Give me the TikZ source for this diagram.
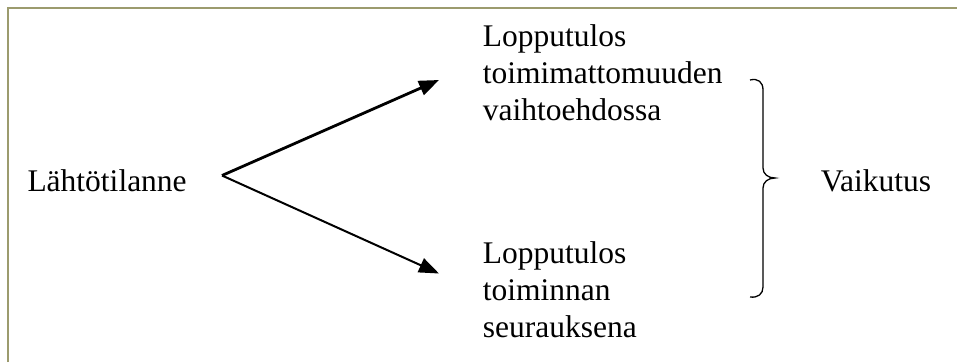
\documentclass[tikz,border=0pt]{standalone}
\usepackage{fontspec}
\setmainfont{Liberation Serif}
\usetikzlibrary{arrows.meta}
\definecolor{frameol}{RGB}{156,155,110}
\begin{document}
\begin{tikzpicture}[x=1pt,y=-1pt,
  lbl/.style={inner sep=0pt, font=\fontsize{31.5pt}{36.8pt}\selectfont, align=left},
  arr/.style={-{Triangle[length=20pt,width=15pt]}, line width=#1},
  frame/.style={draw=frameol, line width=2.2pt},
  brace/.style={draw=black, line width=1.3pt}]
\useasboundingbox (0,0) rectangle (957,362);
\draw[frame] (7.8,362) -- (7.8,7.8) -- (957,7.8);
\node[lbl, anchor=base west] (start) at (27.3,191.7) {Lähtötilanne};
\node[lbl, anchor=base west] (topres) at (482.7,120.3) {Lopputulos\\toimimattomuuden\\vaihtoehdossa};
\node[lbl, anchor=base west] (botres) at (482.7,337.3) {Lopputulos\\toiminnan\\seurauksena};
\node[lbl, anchor=base west] (effect) at (820.7,191.7) {Vaikutus};
\coordinate (apex) at (222,175.5);
\coordinate (tipA) at (439,80);
\coordinate (tipB) at (439,273.5);
\draw[arr=2.8pt] (apex) -- (tipA);
\draw[arr=2pt] (apex) -- (tipB);
\draw[brace] (750,80) .. controls (758,78) and (763,82) .. (763,90)
  -- (763,168) .. controls (763,174) and (768,178) .. (775,178)
  .. controls (768,178) and (763,182) .. (763,188)
  -- (763,287) .. controls (763,294) and (758,298) .. (750,297);
\end{tikzpicture}
\end{document}
